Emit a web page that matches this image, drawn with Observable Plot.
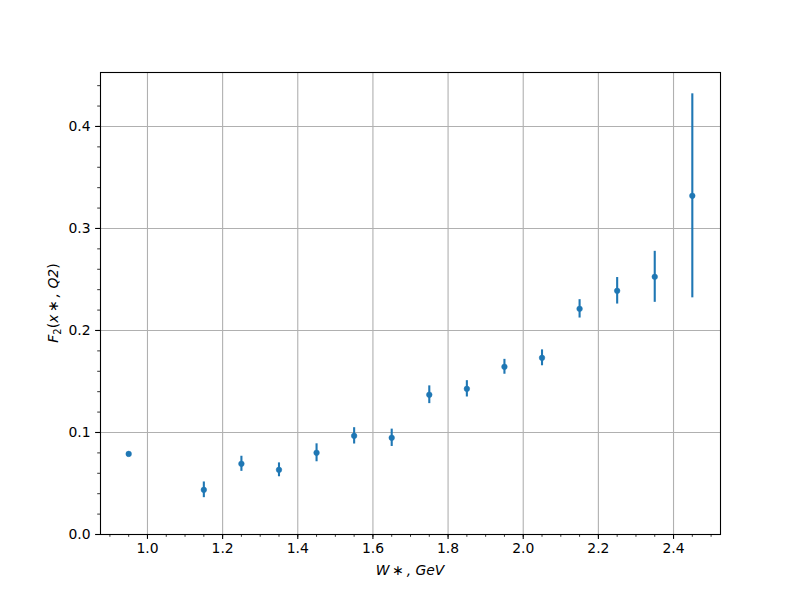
<!DOCTYPE html>
<html><head><meta charset="utf-8">
<script src="https://cdn.jsdelivr.net/npm/d3@7"></script>
<script src="https://cdn.jsdelivr.net/npm/@observablehq/plot@0.6"></script>
<style>
body{margin:0;background:#fff;}
svg{font-family:"DejaVu Sans",sans-serif;}
</style>
</head><body><div id="chart"></div>
<script>
const W = [0.95,1.15,1.25,1.35,1.45,1.55,1.65,1.75,1.85,1.95,2.05,2.15,2.25,2.35,2.45];
const F2 = [0.079,0.0438,0.0693,0.0634,0.0801,0.0967,0.0948,0.137,0.1428,0.1644,0.1732,0.2212,0.2389,0.2526,0.332];
const ERR = [0,0.0077,0.0074,0.0068,0.0088,0.008,0.0085,0.0087,0.008,0.0073,0.0078,0.009,0.013,0.025,0.100];
const xMajor = [1.0,1.2,1.4,1.6,1.8,2.0,2.2,2.4];
const xMinor = d3.range(0.9,2.5001,0.05).map(v=>+v.toFixed(2));
const yMajor = [0.0,0.1,0.2,0.3,0.4];
const yMinor = d3.range(0,0.4501,0.02).map(v=>+v.toFixed(2));

const data = W.map((w,i)=>({w, f:F2[i], lo:F2[i]-ERR[i], hi:F2[i]+ERR[i]}));
const blue = "#1f77b4";
const fs = "13.9px";
const blank = () => "";

const plot = Plot.plot({
  width: 800, height: 600,
  marginLeft: 100, marginRight: 80, marginTop: 72, marginBottom: 66,
  style: {fontFamily: '"DejaVu Sans", sans-serif', fontSize: fs, color: "#000", background: "#fff"},
  x: {domain: [0.875, 2.525]},
  y: {domain: [0, 0.4529]},
  marks: [
    Plot.gridX(xMajor, {stroke: "#b0b0b0", strokeOpacity: 1, strokeWidth: 1.1}),
    Plot.gridY(yMajor, {stroke: "#b0b0b0", strokeOpacity: 1, strokeWidth: 1.1}),
    Plot.axisX(xMinor, {tickSize: 2.8, tickFormat: blank, label: null, stroke: "#000", strokeWidth: 0.8}),
    Plot.axisY(yMinor, {tickSize: 2.8, tickFormat: blank, label: null, stroke: "#000", strokeWidth: 0.8}),
    Plot.axisX(xMajor, {tickSize: 4.9, tickPadding: 4, tickFormat: d3.format(".1f"), label: null, fontSize: fs, stroke: "#000", strokeWidth: 1.1}),
    Plot.axisY(yMajor, {tickSize: 4.9, tickPadding: 5, tickFormat: d3.format(".1f"), label: null, fontSize: fs, stroke: "#000", strokeWidth: 1.1}),
    Plot.ruleX(data.filter(d=>d.hi>d.lo), {x: "w", y1: "lo", y2: "hi", stroke: blue, strokeWidth: 2.1}),
    Plot.dot(data, {x: "w", y: "f", r: 2.8, fill: blue, stroke: blue, strokeWidth: 0.5}),
    Plot.frame({stroke: "#000", strokeWidth: 1.1})
  ]
});
document.getElementById("chart").appendChild(plot);

const svg = d3.select(plot);
// x label
const xl = svg.append("text").attr("x", 410).attr("y", 575).attr("text-anchor","middle")
  .style("font-size", fs).style("font-family",'"DejaVu Sans", sans-serif').attr("fill","#000");
xl.append("tspan").style("font-style","italic").text("W");
xl.append("tspan").text("\u2009∗\u2009");
xl.append("tspan").style("font-style","italic").text(", GeV");
// y label
const yl = svg.append("text").attr("transform","translate(58,303) rotate(-90)").attr("text-anchor","middle")
  .style("font-size", fs).style("font-family",'"DejaVu Sans", sans-serif').attr("fill","#000");
yl.append("tspan").style("font-style","italic").text("F");
yl.append("tspan").attr("dy", 3).style("font-size","10px").text("2");
yl.append("tspan").attr("dy", -3).text("(");
yl.append("tspan").style("font-style","italic").text("x");
yl.append("tspan").text("\u2009∗\u2009");
yl.append("tspan").style("font-style","italic").text(", Q2");
yl.append("tspan").text(")");
</script>
</body></html>
